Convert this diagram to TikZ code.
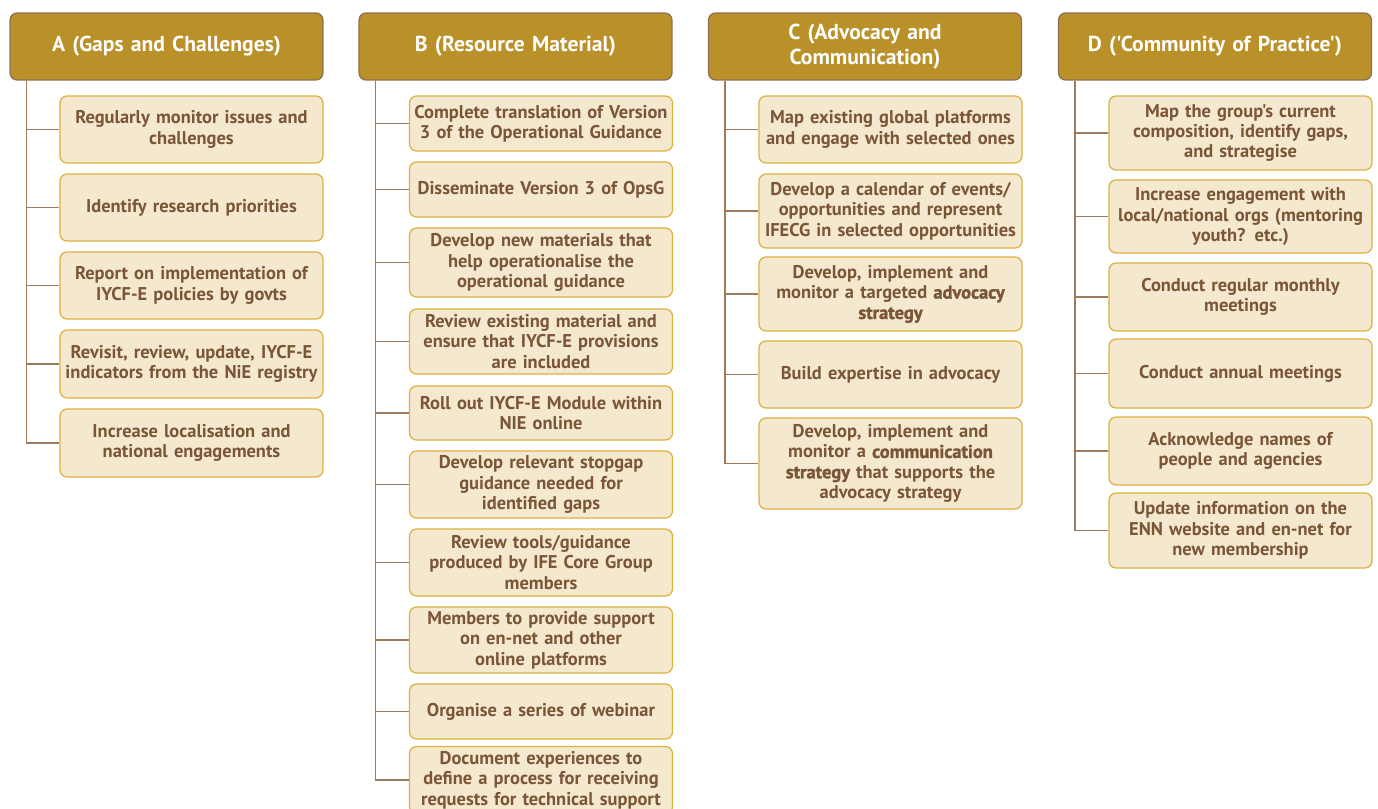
\documentclass[tikz,border=0pt]{standalone}
\usepackage{fontspec}
\setmainfont{PT Sans}[Ligatures=TeXOff]
\newfontface\heavyfont{PT Sans Bold}[FakeBold=1.6, Ligatures=TeXOff]
\usetikzlibrary{positioning}
\definecolor{headfill}{HTML}{BA9029}
\definecolor{headline}{HTML}{8E6F55}
\definecolor{boxfill}{HTML}{F4E9CF}
\definecolor{boxline}{HTML}{DCB13E}
\definecolor{inkbrown}{HTML}{7B5537}
\definecolor{linkbrown}{HTML}{9C7B5E}
\newcommand{\keyword}[1]{{\heavyfont #1}}
\hyphenpenalty=10000

\begin{document}
\begin{tikzpicture}[x=0.02cm, y=-0.02cm,
    head/.style={draw=headline, fill=headfill, line width=0.7pt, rounded corners=0.14cm,
      minimum width=6.26cm, minimum height=1.34cm, text width=6.0cm, align=center,
      inner sep=0pt, text=white, font=\bfseries\fontsize{12.3}{14.2}\selectfont},
    task/.style={draw=boxline, fill=boxfill, line width=0.7pt, rounded corners=0.14cm,
      minimum width=5.26cm, text width=5.22cm, align=center, inner sep=0pt,
      text=inkbrown, font=\bfseries\fontsize{10.5}{11.6}\selectfont},
    link/.style={draw=linkbrown, line width=0.8pt}]

  \useasboundingbox (0,0) rectangle (1378,808);
  \clip (0,0) rectangle (1378,808);

  % Column A
  \node[head] (hA) at (166.5,46.5) {A (Gaps and Challenges)};
  \node[task, minimum height=1.34cm] (a1) at (191.5,129.5) {Regularly monitor issues and\\ challenges};
  \node[task, minimum height=1.34cm] (a2) at (191.5,207.5) {Identify research priorities};
  \node[task, minimum height=1.34cm] (a3) at (191.5,285.5) {Report on implementation of\\ IYCF-E policies by govts};
  \node[task, minimum height=1.36cm] (a4) at (191.5,364) {Revisit, review, update, IYCF-E\\ indicators from the NiE registry};
  \node[task, minimum height=1.36cm] (a5) at (191.5,443) {Increase localisation and\\ national engagements};
  \foreach \t in {a1,a2,a3,a4,a5}
    \draw[link] ([xshift=0.34cm]hA.south west) |- (\t.west);

  % Column B
  \node[head] (hB) at (515.5,46.5) {B (Resource Material)};
  \node[task, minimum height=1.10cm] (b1) at (541,123.5) {Complete translation of Version\\ 3 of the Operational Guidance};
  \node[task, minimum height=1.10cm] (b2) at (541,189.5) {Disseminate Version 3 of OpsG};
  \node[task, minimum height=1.38cm] (b3) at (541,262.5) {Develop new materials that\\ help operationalise the\\ operational guidance};
  \node[task, minimum height=1.30cm] (b4) at (541,341.5) {Review existing material and\\ ensure that IYCF-E provisions\\ are included};
  \node[task, minimum height=1.08cm] (b5) at (541,413) {Roll out IYCF-E Module within\\ NIE online};
  \node[task, minimum height=1.34cm] (b6) at (541,484.5) {Develop relevant stopgap\\ guidance needed for\\ identified gaps};
  \node[task, minimum height=1.34cm] (b7) at (541,562.5) {Review tools/guidance\\ produced by IFE Core Group\\ members};
  \node[task, minimum height=1.32cm] (b8) at (541,640) {Members to provide support\\ on en-net and other\\ online platforms};
  \node[task, minimum height=1.10cm] (b9) at (541,711.5) {Organise a series of webinar};
  \node[task, minimum height=1.34cm] (b10) at (541,780) {Document experiences to\\ define a process for receiving\\ requests for technical support};
  \foreach \t in {b1,b2,b3,b4,b5,b6,b7,b8,b9,b10}
    \draw[link] ([xshift=0.34cm]hB.south west) |- (\t.west);

  % Column C
  \node[head] (hC) at (865,46.5) {C (Advocacy and\\ Communication)};
  \node[task, minimum height=1.34cm] (c1) at (890.5,129.5) {Map existing global platforms\\ and engage with selected ones};
  \node[task, minimum height=1.48cm] (c2) at (890.5,211) {Develop a calendar of events/\\ opportunities and represent\\ IFECG in selected opportunities};
  \node[task, minimum height=1.48cm] (c3) at (890.5,294) {Develop, implement and\\ monitor a targeted \keyword{advocacy}\\ \keyword{strategy}};
  \node[task, minimum height=1.34cm] (c4) at (890.5,374.5) {Build expertise in advocacy};
  \node[task, minimum height=1.82cm] (c5) at (890.5,463.5) {Develop, implement and\\ monitor a \keyword{communication}\\ \keyword{strategy} that supports the\\ advocacy strategy};
  \foreach \t in {c1,c2,c3,c4,c5}
    \draw[link] ([xshift=0.34cm]hC.south west) |- (\t.west);

  % Column D
  \node[head] (hD) at (1215,46.5) {D ('Community of Practice')};
  \node[task, minimum height=1.48cm] (d1) at (1240.5,133) {Map the group's current\\ composition, identify gaps,\\ and strategise};
  \node[task, minimum height=1.46cm] (d2) at (1240.5,216.5) {Increase engagement with\\ local/national orgs (mentoring\\ youth? etc.)};
  \node[task, minimum height=1.36cm] (d3) at (1240.5,297) {Conduct regular monthly\\ meetings};
  \node[task, minimum height=1.38cm] (d4) at (1240.5,373.5) {Conduct annual meetings};
  \node[task, minimum height=1.36cm] (d5) at (1240.5,451) {Acknowledge names of\\ people and agencies};
  \node[task, minimum height=1.50cm] (d6) at (1240.5,530.5) {Update information on the\\ ENN website and en-net for\\ new membership};
  \foreach \t in {d1,d2,d3,d4,d5,d6}
    \draw[link] ([xshift=0.34cm]hD.south west) |- (\t.west);

\end{tikzpicture}
\end{document}
